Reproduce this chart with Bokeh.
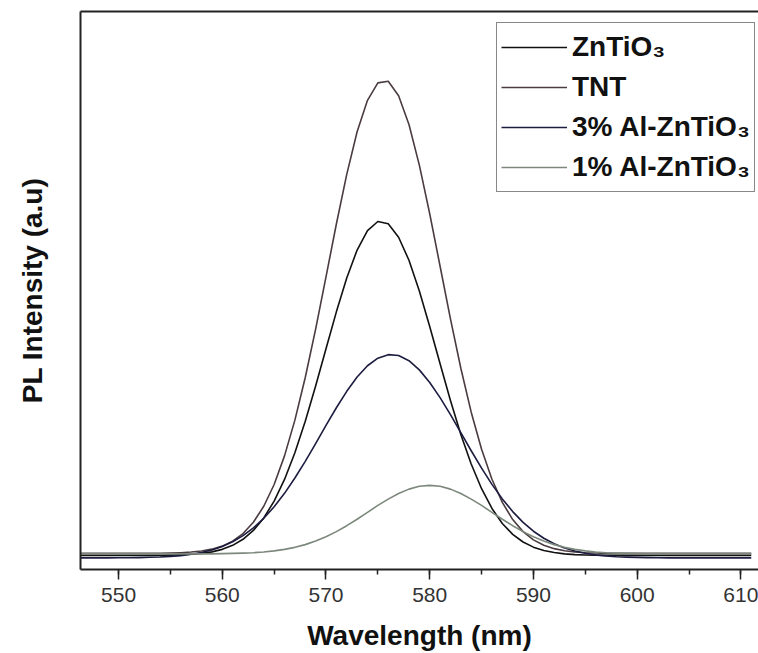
from bokeh.plotting import figure
from bokeh.models import (ColumnDataSource, LinearAxis, SingleIntervalTicker, FixedTicker,
                          Range1d, Legend, LegendItem)
from bokeh.embed import file_html
from bokeh.resources import INLINE

# ---------------- data ----------------
wavelength = list(range(546, 612))

series_names = ["ZnTiO\u2083", "TNT", "3% Al-ZnTiO\u2083", "1% Al-ZnTiO\u2083"]

zntio3 = [-1.0, -1.0, -1.0, -1.0, -1.0, -1.0, -1.0, -1.0, -1.0,
          -0.7, -0.4, 0.1, 1.0, 2.5, 5.0, 9.0, 15.0, 23.8, 36.2, 52.9, 74.4, 100.9, 132.1,
          167.1, 204.1, 240.8, 274.5, 302.2, 321.5, 330.5, 328.2, 314.9, 292.0, 261.5,
          226.3, 189.2, 152.8, 119.1, 89.7, 65.2, 45.6, 30.7, 19.9, 12.3, 7.2, 3.8, 1.8,
          0.5, -0.2, -0.6, -0.8,
          -1.0, -1.0, -1.0, -1.0, -1.0, -1.0, -1.0, -1.0, -1.0, -1.0, -1.0, -1.0, -1.0, -1.0, -1.0]

tnt = [1.0, 1.0, 1.0, 1.0, 1.0, 1.0, 1.0, 1.0, 1.0,
       1.3, 1.7, 2.3, 3.3, 5.2, 8.2, 13.2, 20.7, 31.9, 47.8, 69.4, 97.8, 133.3, 175.6,
       223.7, 275.5, 328.0, 377.3, 419.6, 450.8, 468.1, 469.7, 455.4, 426.8, 386.5,
       338.2, 286.1, 233.8, 184.8, 141.2, 104.3, 74.6, 51.6, 34.6, 22.6, 14.4, 9.1, 5.7,
       3.6, 2.4, 1.7, 1.4,
       1.0, 1.0, 1.0, 1.0, 1.0, 1.0, 1.0, 1.0, 1.0, 1.0, 1.0, 1.0, 1.0, 1.0, 1.0]

al3_zntio3 = [-3.5, -3.5, -3.5, -3.5,
              -3.4, -3.3, -3.2, -2.9, -2.6, -2.0, -1.2, 0.1, 1.9, 4.4, 7.9, 12.6, 18.6,
              26.3, 35.8, 47.3, 60.6, 75.8, 92.4, 110.0, 128.0, 145.6, 161.9, 176.1, 187.3,
              194.8, 198.3, 197.4, 192.3, 183.2, 170.7, 155.6, 138.7, 120.8, 102.9, 85.6,
              69.5, 55.1, 42.5, 31.8, 23.0, 16.0, 10.6, 6.4, 3.3, 1.1, -0.5, -1.5, -2.3,
              -2.7, -3.0, -3.2, -3.3,
              -3.5, -3.5, -3.5, -3.5, -3.5, -3.5, -3.5, -3.5, -3.5]

al1_zntio3 = [0.5, 0.5, 0.5, 0.5, 0.5, 0.5, 0.5, 0.5, 0.5, 0.5, 0.5, 0.5, 0.5, 0.5,
              0.8, 1.0, 1.3, 1.7, 2.4, 3.5, 5.0, 7.0, 9.7, 13.2, 17.5, 22.6, 28.5, 34.9,
              41.7, 48.6, 54.9, 60.5, 64.8, 67.6, 68.5, 67.6, 64.8, 60.5, 54.9, 48.6, 41.7,
              34.9, 28.5, 22.6, 17.5, 13.2, 9.7, 7.0, 5.0, 3.5, 2.4, 1.7, 1.3, 1.0, 0.8,
              0.5, 0.5, 0.5, 0.5, 0.5, 0.5, 0.5, 0.5, 0.5, 0.5, 0.5]

series_colors = ["#111111", "#4a3c40", "#1c1c40", "#7c887c"]

FONT = "Liberation Sans"

# ---------------- figure ----------------
p = figure(width=758, height=653, output_backend="svg", toolbar_location=None,
           x_range=Range1d(546.33, 611.7), y_range=Range1d(-15, 539),
           min_border_left=80, min_border_right=0, min_border_top=11, min_border_bottom=10)
p.outline_line_color = None
p.grid.visible = False
p.background_fill_color = "white"
p.border_fill_color = "white"

src = ColumnDataSource(dict(x=wavelength, a=zntio3, b=tnt, c=al3_zntio3, d=al1_zntio3))
renderers = []
for col, color in zip(["a", "b", "c", "d"], series_colors):
    r = p.line("x", col, source=src, line_color=color, line_width=1.6, line_join="round")
    renderers.append(r)

# bottom axis
xa = p.xaxis[0]
xa.ticker = SingleIntervalTicker(interval=10, num_minor_ticks=2)
xa.axis_line_width = 2
xa.axis_line_color = "#222222"
xa.major_tick_line_width = 1.5
xa.major_tick_line_color = "#222222"
xa.minor_tick_line_width = 1.5
xa.minor_tick_line_color = "#222222"
xa.major_tick_out = 10
xa.major_tick_in = 0
xa.minor_tick_out = 5
xa.minor_tick_in = 0
xa.major_label_text_font = FONT
xa.major_label_text_font_size = "21px"
xa.major_label_text_color = "#333333"
xa.major_label_standoff = 8
xa.axis_label = "Wavelength (nm)"
xa.axis_label_text_font = FONT
xa.axis_label_text_font_size = "28px"
xa.axis_label_text_font_style = "bold"
xa.axis_label_text_color = "#111111"
xa.axis_label_standoff = 15

# left axis (frame line + label only)
ya = p.yaxis[0]
ya.ticker = FixedTicker(ticks=[])
ya.major_tick_line_color = None
ya.minor_tick_line_color = None
ya.major_label_standoff = 0
ya.axis_line_width = 2
ya.axis_line_color = "#222222"
ya.axis_label = "PL Intensity (a.u)"
ya.axis_label_text_font = FONT
ya.axis_label_text_font_size = "28px"
ya.axis_label_text_font_style = "bold"
ya.axis_label_text_color = "#111111"
ya.axis_label_standoff = 33

# top frame line
top = LinearAxis(ticker=FixedTicker(ticks=[]), major_tick_line_color=None,
                 minor_tick_line_color=None, major_label_standoff=0,
                 axis_line_width=2, axis_line_color="#222222")
p.add_layout(top, "above")

# legend
items = [LegendItem(label=n, renderers=[r]) for n, r in zip(series_names, renderers)]
legend = Legend(items=items, location=(416, 377),
                label_text_font=FONT, label_text_font_size="28px",
                label_text_font_style="bold", label_text_color="#111111",
                glyph_width=66, glyph_height=20, label_standoff=5,
                label_height=40, spacing=0, padding=4, margin=0,
                border_line_color="#111111", border_line_width=1.5,
                background_fill_color="white", background_fill_alpha=1.0)
p.add_layout(legend, "center")

open("out.html", "w").write(file_html(p, INLINE))
